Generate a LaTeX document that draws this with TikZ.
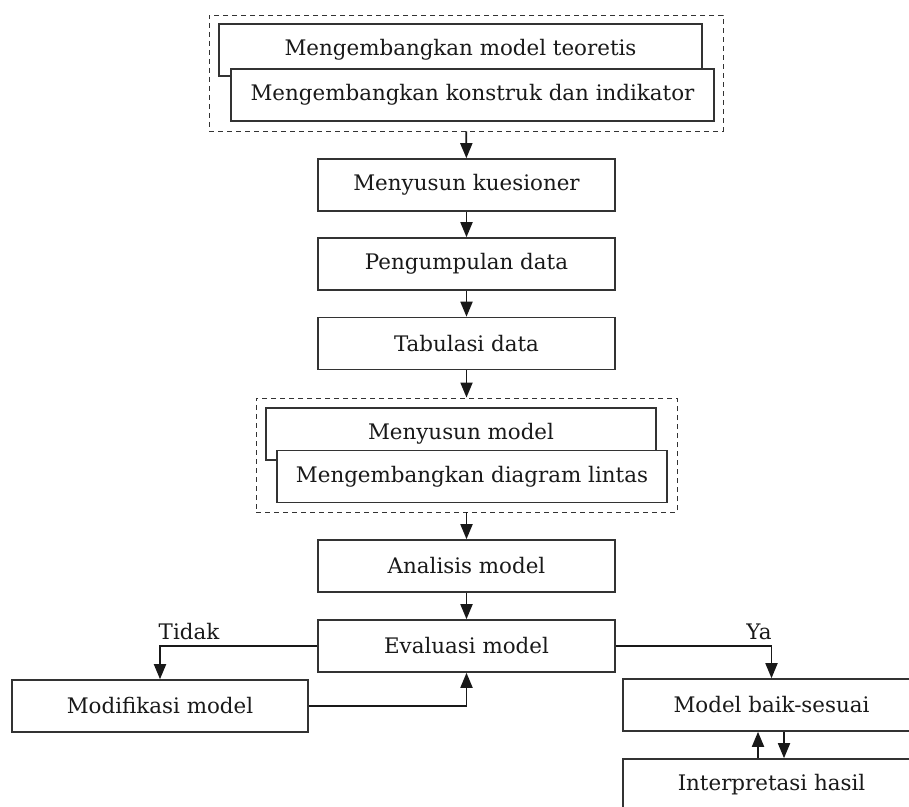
\documentclass[tikz,border=0pt]{standalone}
\usepackage{fontspec}
\setmainfont{DejaVu Serif}
\usetikzlibrary{arrows.meta}

\tikzset{
  box/.style={draw=black!80, line width=0.8pt, fill=white, inner sep=0pt,
    minimum width=148.5pt, minimum height=26pt, text=black!90,
    font=\fontsize{10.7}{12}\selectfont},
  group/.style={draw=black!80, line width=0.45pt, dash pattern=on 2.5pt off 2pt, inner sep=0pt},
  flow/.style={draw=black!90, line width=0.9pt, -{Triangle[length=7.5pt,width=6pt]}},
  lbl/.style={text=black!90, inner sep=0pt, font=\fontsize{10.7}{12}\selectfont}
}

\begin{document}
\begin{tikzpicture}[x=0.5pt, y=-0.5pt]
  \fill[white] (0,0) rectangle (909,807);
  \useasboundingbox (0,0) rectangle (909,807);
  \clip (0,0) rectangle (909,807);

  % first group
  \node[group, minimum width=257pt, minimum height=58pt] (teori) at (466,73) {};
  \node[box, minimum width=241.5pt] (model) at (460.5,50) {Mengembangkan model teoretis};
  \node[box, minimum width=241.5pt] (konstruk) at (472.5,95) {Mengembangkan konstruk dan indikator};

  % main column
  \node[box] (kuesioner) at (466.5,185) {Menyusun kuesioner};
  \node[box] (kumpul) at (466.5,264) {Pengumpulan data};
  \node[box] (tabulasi) at (466.5,343.5) {Tabulasi data};

  % second group
  \node[group, minimum width=210.5pt, minimum height=57pt] (susun) at (466.5,455) {};
  \node[box, minimum width=195pt] (susunmodel) at (461,434) {Menyusun model};
  \node[box, minimum width=195pt] (lintas) at (472,476.5) {Mengembangkan diagram lintas};

  \node[box] (analisis) at (466.5,566) {Analisis model};
  \node[box] (evaluasi) at (466.5,646) {Evaluasi model};

  % branches
  \node[box, minimum width=148pt] (modifikasi) at (160,706) {Modifikasi model};
  \node[box] (sesuai) at (771.5,705) {Model baik-sesuai};
  \node[box] (interpretasi) at (771.5,785) {Interpretasi hasil};

  \node[lbl] (tidak) at (189,632) {Tidak};
  \node[lbl] (ya) at (759,632) {Ya};

  % connectors
  \draw[flow] (teori) -- (kuesioner);
  \draw[flow] (kuesioner) -- (kumpul);
  \draw[flow] (kumpul) -- (tabulasi);
  \draw[flow] (tabulasi) -- (susun);
  \draw[flow] (susun) -- (analisis);
  \draw[flow] (analisis) -- (evaluasi);
  \draw[flow] (evaluasi.west) -| (modifikasi.north);
  \draw[flow] (modifikasi.east) -| (evaluasi.south);
  \draw[flow] (evaluasi.east) -| (sesuai.north);
  \draw[flow] ([xshift=-6.75pt]interpretasi.north) -- ([xshift=-6.75pt]sesuai.south);
  \draw[flow] ([xshift=6.25pt]sesuai.south) -- ([xshift=6.25pt]interpretasi.north);
\end{tikzpicture}
\end{document}
